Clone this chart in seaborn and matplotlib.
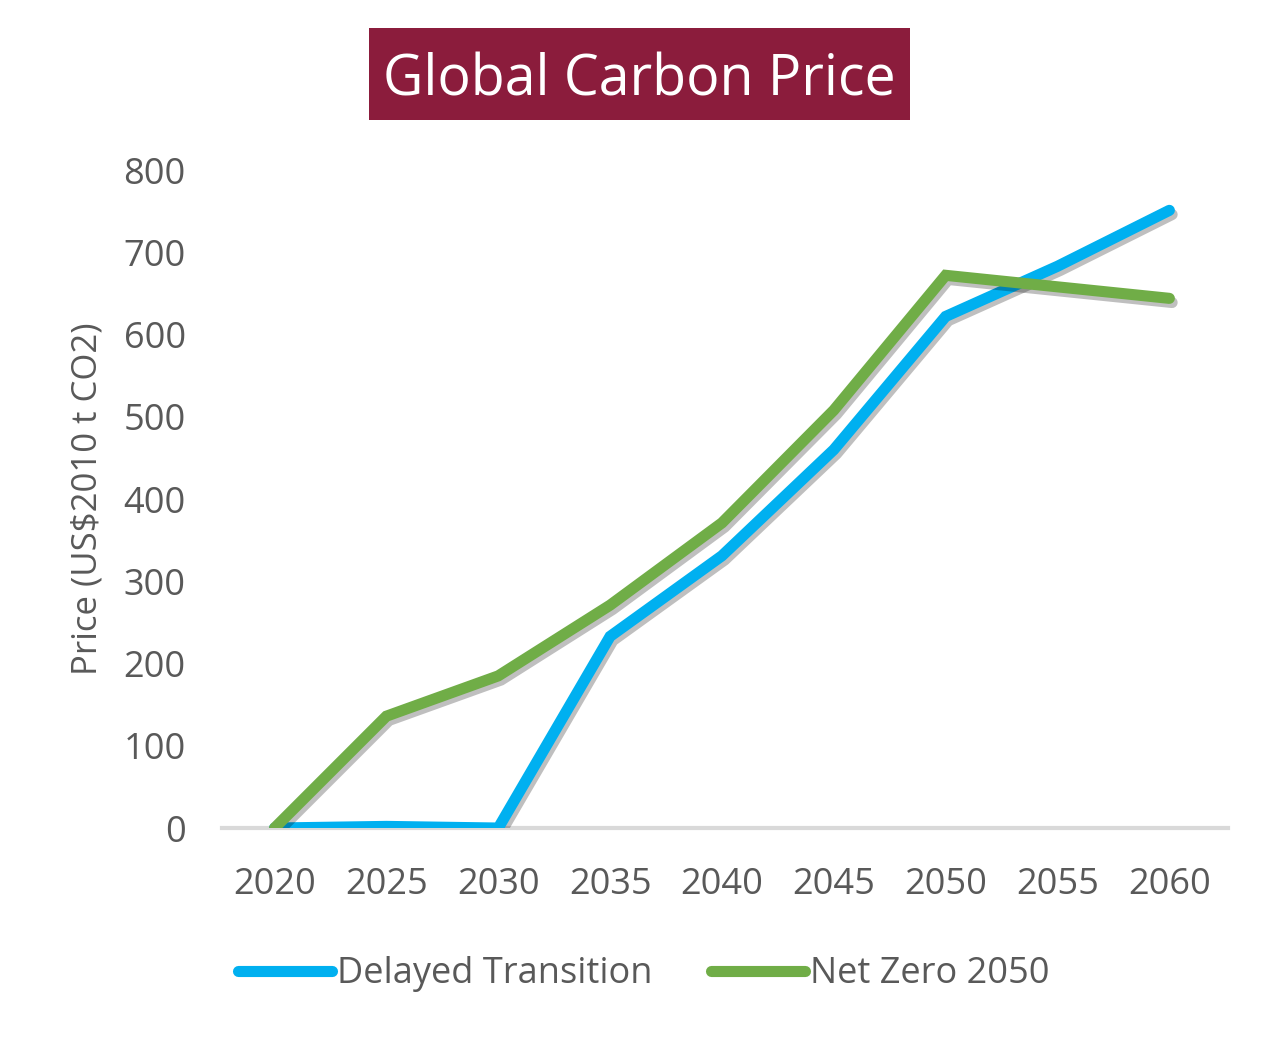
import numpy as np
import pandas as pd
import matplotlib.pyplot as plt
import matplotlib.patheffects as pe
from matplotlib.patches import Rectangle
import seaborn as sns

years = ["2020", "2025", "2030", "2035", "2040", "2045", "2050", "2055", "2060"]
delayed = [0, 2, 0, 233, 331, 460, 622, 683, 751]
net_zero = [0, 136, 185, 271, 371, 508, 672, 658, 644]
series_names = ["Delayed Transition", "Net Zero 2050"]

df = pd.DataFrame({
    "Year": years * 2,
    "Price": delayed + net_zero,
    "Scenario": [series_names[0]] * len(years) + [series_names[1]] * len(years),
})

sns.set_style("white")
plt.rcParams['font.family'] = ['Open Sans', 'DejaVu Sans']

grey = "#595959"
fig = plt.figure(figsize=(12.8, 10.4), dpi=100)
ax = fig.add_axes([0.1734, 0.2038, 0.7856, 0.6327])

shadow = [pe.SimpleLineShadow(offset=(2, -3), shadow_color="#000000", alpha=0.25), pe.Normal()]
sns.lineplot(data=df, x="Year", y="Price", hue="Scenario", sort=False,
             palette=["#00B0F0", "#70AD47"], linewidth=8, ax=ax,
             legend=False)
for line in ax.get_lines():
    line.set_path_effects(shadow)
    line.set_solid_capstyle("round")
    line.set_solid_joinstyle("miter")

ax.set_xlim(-0.47, 8.52)
ax.set_ylim(0, 800)
ax.set_yticks(range(0, 801, 100))
ax.set_xlabel("")
ax.set_ylabel("Price (US$2010 t CO2)", fontsize=25, color=grey, labelpad=14)
for s in ["top", "right", "left"]:
    ax.spines[s].set_visible(False)
ax.spines["bottom"].set_color("#D9D9D9")
ax.spines["bottom"].set_linewidth(3)
ax.spines["bottom"].set_zorder(0)
ax.tick_params(axis="both", length=0, labelsize=26, colors=grey)
ax.tick_params(axis="x", pad=28)
ax.tick_params(axis="y", pad=26)
ax.grid(False)

handles = [plt.Line2D([], [], color=c, linewidth=8, solid_capstyle="round") for c in ["#00B0F0", "#70AD47"]]
fig.legend(handles, series_names, loc="center", bbox_to_anchor=(0.503, 0.063), ncol=2,
           frameon=False, fontsize=26, handlelength=2.6, handletextpad=0.15,
           columnspacing=1.6, labelcolor=grey)

fig.add_artist(Rectangle((0.2883, 0.8846), 0.4227, 0.0885, transform=fig.transFigure,
                         facecolor="#8B1C3C", edgecolor="none"))
fig.text(0.4996, 0.922, "Global Carbon Price", color="white", fontsize=40,
         ha="center", va="center")

fig.savefig("out.png", dpi=100)
